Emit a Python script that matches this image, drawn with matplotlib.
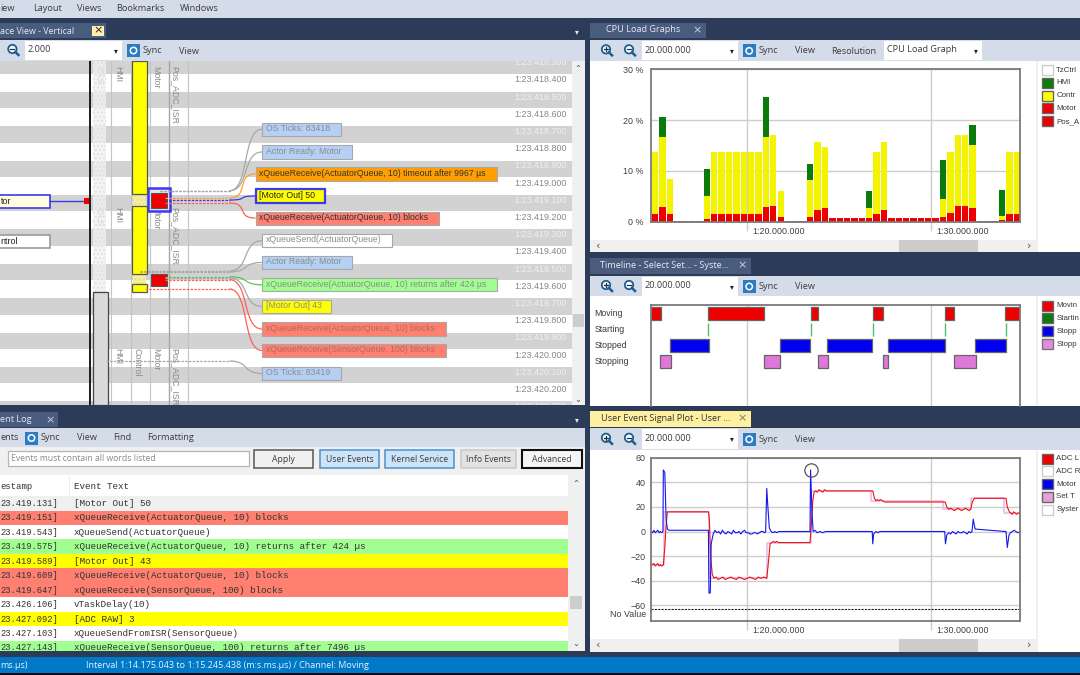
import numpy as np
import matplotlib
matplotlib.use("Agg")
import matplotlib.pyplot as plt
from matplotlib.patches import Rectangle, Circle, PathPatch
from matplotlib.path import Path
from matplotlib.transforms import ScaledTranslation, blended_transform_factory

# cpu load graph, percent per 0.4 s interval
cpu_red = [1.5, 2.8, 1.5, 0.1, 0.1, 0.1, 0.1, 0.5, 1.5, 1.5, 1.5, 1.5, 1.5, 1.5, 1.5, 2.8, 3.0,
           1.0, 0.1, 0.1, 0.1, 0.9, 2.3, 2.6, 0.7, 0.7, 0.7, 0.7, 0.7, 0.7, 1.5, 2.4, 0.7, 0.7,
           0.7, 0.7, 0.7, 0.7, 0.7, 0.9, 1.7, 3.0, 3.0, 2.6, 0.1, 0.1, 0.1, 0.3, 1.5, 1.5]
cpu_yellow = [12.2, 13.9, 7.0, 0.1, 0.1, 0.1, 0.1, 4.5, 12.2, 12.2, 12.2, 12.2, 12.2, 12.2, 12.2,
              13.8, 14.0, 5.0, 0.1, 0.1, 0.1, 7.4, 13.3, 12.1, 0, 0, 0, 0, 0, 1.9, 12.2, 13.3, 0,
              0, 0, 0, 0, 0, 0, 3.6, 12.0, 14.0, 14.0, 12.5, 0.1, 0.1, 0.1, 0.8, 12.2, 12.2]
cpu_green = [0, 4.0, 0, 0, 0, 0, 0, 5.4, 0, 0, 0, 0, 0, 0, 0, 7.9, 0, 0, 0, 0, 0, 3.1, 0, 0, 0, 0,
             0, 0, 0, 3.5, 0, 0, 0, 0, 0, 0, 0, 0, 0, 7.7, 0, 0, 0, 3.9, 0, 0, 0, 5.1, 0, 0]
cpu_start = 75.0
cpu_step = 0.401

# timeline states, seconds
state_names = ["Moving", "Starting", "Stopped", "Stopping"]
moving = [(74.79, 75.30), (77.89, 80.91), (83.45, 83.85), (86.82, 87.38), (90.75, 91.22), (94.00, 94.82)]
starting = [77.89, 83.45, 86.82, 90.75, 94.06]
stopped = [(75.82, 77.92), (81.76, 83.43), (84.35, 86.80), (87.63, 90.77), (92.40, 94.05)]
stopping = [(75.26, 75.84), (80.89, 81.80), (83.83, 84.39), (87.38, 87.65), (91.22, 92.42)]

# user event signals
adc_t = [74.79, 74.86, 74.93, 75.0, 75.07, 75.14, 75.21, 75.28, 75.36, 75.44, 75.51, 75.59, 75.66,
         77.89, 77.94, 78.01, 78.10, 78.19, 78.3, 78.42, 78.55, 78.68, 78.8, 78.95, 79.1, 79.25,
         79.4, 79.55, 79.7, 79.85, 80.0, 80.15, 80.3, 80.45, 80.6, 80.75, 80.9, 81.06, 81.15,
         81.24, 81.33, 81.42, 81.5, 81.6, 81.7, 81.8, 83.41, 83.48, 83.56, 83.63, 83.72, 83.8,
         83.9, 84.0, 84.1, 84.2, 84.3, 86.82, 86.91, 86.99, 87.08, 87.16, 87.25, 87.35, 87.45,
         87.58, 90.75, 90.84, 90.95, 91.05, 91.15, 91.25, 91.35, 91.45, 91.55, 91.65, 91.75,
         91.85, 91.95, 92.05, 92.14, 92.23, 92.34, 94.06, 94.13, 94.24, 94.32, 94.4, 94.48, 94.56,
         94.64, 94.72, 94.82]
adc_v = [-26, -27, -26, -28, -27, -26, -28, -27, -28, -27, -15, 5, 16,
         16, 10, -20, -35, -38, -37, -39, -38, -37, -39, -38, -37, -38, -39, -37, -38, -39,
         -38, -37, -38, -39, -37, -38, -37, -38, -25, -10, -9, -8, -9, -8, -9, -9, -9, 5, 25,
         32, 33, 32, 34, 33, 32, 34, 33, 33, 27, 25, 26, 25, 26, 25, 24, 24, 24, 20, 18, 19, 18,
         17, 18, 19, 18, 17, 18, 19, 18, 17, 18, 24, 27, 27, 20, 16, 15, 14, 16, 15, 14, 15, 15]

motor_t = [74.79, 74.86, 74.93, 75.0, 75.07, 75.14, 75.21, 75.28, 75.36, 75.42, 75.44, 75.52, 75.59,
           75.66, 75.75, 77.89, 77.92, 77.99, 78.04, 78.15, 78.25, 78.35, 78.45, 78.55, 78.65, 78.75,
           78.85, 78.95, 79.05, 79.15, 79.25, 79.35, 79.45, 79.55, 79.65, 79.75, 79.85, 79.95, 80.05,
           80.15, 80.25, 80.35, 80.45, 80.55, 80.65, 80.75, 80.85, 80.95, 81.0, 81.06, 81.12, 81.2,
           81.3, 81.4, 81.5, 81.6, 81.7, 83.41, 83.44, 83.52, 83.58, 83.68, 83.8, 83.95, 84.1, 84.25,
           86.79, 86.82, 86.87, 86.99, 87.1, 87.2, 87.35, 90.73, 90.77, 90.84, 90.95, 91.05, 91.15,
           91.25, 91.35, 91.45, 91.55, 91.65, 91.75, 91.85, 91.95, 92.05, 92.14, 92.21, 92.28, 92.38,
           94.02, 94.06, 94.13, 94.22, 94.3, 94.4, 94.5, 94.6, 94.7, 94.82]
motor_v = [0, -1, 1, -1, 0, 1, -1, 0, -1, 0, 50, 48, 10, 2, 1, 1, -50, -50, -10, -2, 1, -1, 0, -2, 1,
           -1, -2, 0, -1, -2, 1, -1, -1, 0, -2, 0, 1, -1, -1, -2, -2, -1, -1, -2, -1, 0, 0, -1, 0, 35,
           20, 3, 0, -1, 0, -1, 0, 0, 50, 15, 0, 1, -1, 0, -1, 0, 0, -10, -2, 0, -1, 0, 0, 0, -10, -3,
           -1, -2, 0, -1, -2, 0, -1, -1, 0, -1, -2, 0, -1, 0, 10, 2, 0, 0, -13, -3, -1, 0, 1, 0, -1, 0]

target_t = [74.79, 75.47, 75.47, 77.94, 77.94, 81.06, 81.06, 83.45, 83.45, 86.75, 86.75, 90.65, 90.65,
            92.14, 92.14, 93.97, 93.97, 94.82]
target_v = [-27, -27, 16, 16, -38, -38, -9, -9, 33, 33, 25, 25, 18, 18, 27, 27, 15, 15]
no_value_level = -63.2
marked_time = 83.45
marked_value = 50

# trace view texts
trace_times = ["1:23.418.300", "1:23.418.400", "1:23.418.500", "1:23.418.600", "1:23.418.700",
               "1:23.418.800", "1:23.418.900", "1:23.419.000", "1:23.419.100", "1:23.419.200",
               "1:23.419.300", "1:23.419.400", "1:23.419.500", "1:23.419.600", "1:23.419.700",
               "1:23.419.800", "1:23.419.900", "1:23.420.000", "1:23.420.100", "1:23.420.200",
               "1:23.420.300"]

# event log rows, the timestamps are cut off at the window edge in the screenshot
log_stamps = ["23.419.131]", "23.419.151]", "23.419.543]", "23.419.575]", "23.419.589]",
              "23.419.609]", "23.419.647]", "23.426.106]", "23.427.092]", "23.427.103]",
              "23.427.143]"]
log_texts = ["[Motor Out] 50", "xQueueReceive(ActuatorQueue, 10) blocks", "xQueueSend(ActuatorQueue)",
             "xQueueReceive(ActuatorQueue, 10) returns after 424 µs", "[Motor Out] 43",
             "xQueueReceive(ActuatorQueue, 10) blocks", "xQueueReceive(SensorQueue, 100) blocks",
             "vTaskDelay(10)", "[ADC RAW] 3", "xQueueSendFromISR(SensorQueue)",
             "xQueueReceive(SensorQueue, 100) returns after 7496 µs"]
log_colors = ["#F0F0F0", "#FF8070", "white", "#A0FF90", "#FFFF00", "#FF8070", "#FF8070",
              "white", "#FFFF00", "white", "#A0FF90"]

W, H = 1080, 675
NAVY = "#2B3B58"
BAR = "#D5DCE9"
TXT = "#3A3A3A"
UI_FONT = "Open Sans"
CHART_FONT = "Liberation Sans"

fig = plt.figure(figsize=(W / 100, H / 100), dpi=100, facecolor=NAVY)
cv = fig.add_axes([0, 0, 1, 1])
cv.set_xlim(0, W)
cv.set_ylim(H, 0)
cv.axis("off")


def rect(x0, y0, x1, y1, fc, ec="none", lw=0.0, z=6, **kw):
    p = Rectangle((x0, y0), x1 - x0, y1 - y0, facecolor=fc, edgecolor=ec, linewidth=lw, zorder=z, **kw)
    cv.add_patch(p)
    return p


def ui(x, y, s, size=6.6, color=TXT, ha="left", z=7, family=UI_FONT, **kw):
    return cv.text(x, y, s, fontsize=size, color=color, ha=ha, va="center", zorder=z, family=family, **kw)


def magnifier(x, y, sign):
    cv.add_patch(Circle((x, y - 1), 4.2, facecolor="white", edgecolor="#1C5F8E", linewidth=1.3, zorder=7))
    cv.plot([x + 3, x + 6], [y + 2, y + 5], color="#1C5F8E", lw=1.8, zorder=7)
    cv.plot([x - 2, x + 2], [y - 1, y - 1], color="#20303F", lw=0.9, zorder=8)
    if sign == "+":
        cv.plot([x, x], [y - 3, y + 1], color="#20303F", lw=0.9, zorder=8)


def sync(x, y):
    rect(x, y - 6.5, x + 13, y + 6.5, "#2B7CC0", z=7)
    cv.add_patch(Circle((x + 6.5, y), 3.2, facecolor="none", edgecolor="white", linewidth=1.1, zorder=8))
    ui(x + 15.5, y, "Sync", size=6.6)


def combo(x0, x1, y0, y1, s, tx=3):
    rect(x0, y0, x1, y1, "white", z=7)
    ui(x0 + tx, (y0 + y1) / 2 - 0.5, s, size=6.6, z=8)
    ui(x1 - 8, (y0 + y1) / 2, "▾", size=5.5, color="#222222", z=8, family="DejaVu Sans")


def right_panel(y_tab0, y_tab1, title, title_x, tab_color, title_color, close_color, y_bar0, y_bar1, y_bottom, tab_x1):
    rect(590, y_tab0, tab_x1, y_tab1, tab_color)
    ui(title_x, (y_tab0 + y_tab1) / 2 - 0.5, title, size=6.55, color=title_color)
    ui(tab_x1 - 8.5, (y_tab0 + y_tab1) / 2 - 0.5, "×", size=8, color=close_color, ha="center", family="DejaVu Sans")
    rect(590, y_bar0, 1080, y_bar1, BAR)
    rect(590, y_bar1, 1036, y_bottom, "white")
    rect(1036, y_bar1, 1038, y_bottom, "#F0F0F0")
    rect(1038, y_bar1, 1080, y_bottom, "white")
    yc = (y_bar0 + y_bar1) / 2
    magnifier(606, yc, "+")
    magnifier(629, yc, "-")
    combo(641.7, 738.3, y_bar0 + 1, y_bar1 - 0.5, "20.000.000", tx=2.5)
    sync(742.7, yc + 0.5)
    ui(795, yc + 0.5, "View", size=6.6)


def hscroll(y0, y1):
    rect(590, y0, 1036, y1, "#F0F0F0")
    rect(899, y0, 977.7, y1, "#CDCDCD", z=7)
    ui(597, (y0 + y1) / 2, "‹", size=8, color="#555555", ha="center", family="DejaVu Sans")
    ui(1029, (y0 + y1) / 2, "›", size=8, color="#555555", ha="center", family="DejaVu Sans")


def side_legend(names, colors, edges, ys):
    # names stop where the screenshot cuts them off
    for name, fc, ec, y in zip(names, colors, edges, ys):
        rect(1042.3, y - 5, 1052.7, y + 5, fc, ec=ec, lw=1.0, z=7)
        ui(1056.2, y, name, size=5.7, family=CHART_FONT)


def connector(x0, y0, x1, y1, color):
    # dashed run out of the task, then the s-curve up to the label
    xm = 229.5
    cv.plot([x0, xm], [y0, y0], color=color, lw=0.9, ls=(0, (2, 1)), zorder=3)
    path = Path([(xm, y0), (xm + 20, y0), (x1 - 20, y1), (x1, y1)],
                [Path.MOVETO, Path.CURVE4, Path.CURVE4, Path.CURVE4])
    cv.add_patch(PathPatch(path, facecolor="none", edgecolor=color, linewidth=0.9, zorder=3))


def event_box(x0, y0, x1, y1, s, fc, tc, ec="#A8A8A8", lw=0.8):
    rect(x0 + 1, y0 + 1, x1 + 1, y1 + 1, "#BBBBBB", z=3.5)
    rect(x0, y0, x1, y1, fc, ec=ec, lw=lw, z=4)
    cv.text(x0 + 3.5, (y0 + y1) / 2 - 0.5, s, fontsize=6.3, color=tc, va="center", family=CHART_FONT, zorder=5)


def left_tick_labels(ax):
    for lab in ax.get_xticklabels():
        lab.set_ha("left")
        lab.set_transform(lab.get_transform() + ScaledTranslation(5 / 100, 0, fig.dpi_scale_trans))


def chart_axes(x0, y0, x1, y1):
    ax = fig.add_axes([x0 / W, 1 - y1 / H, (x1 - x0) / W, (y1 - y0) / H], zorder=10)
    ax.set_xlim(74.77, 94.82)
    for s in ax.spines.values():
        s.set_color("#7A7A7A")
        s.set_linewidth(1.3)
    ax.set_axisbelow(True)
    ax.grid(True, color="#CCCCCC", lw=1.0)
    ax.set_xticks([80, 90])
    return ax


# ---- top menu
rect(0, 0, W, 17.5, BAR)
for x, s in [(0.5, "iew"), (33, "Layout"), (77, "Views"), (116.6, "Bookmarks"), (179.5, "Windows")]:
    ui(x, 8.5, s, size=6.55)

# ---- trace view content
rect(0, 61, 585, 404.5, "white", z=1)
for i, s in enumerate(trace_times):
    y = 62.8 + 17.2 * i
    if i % 2 == 0:
        rect(0, y - 5.5, 572, y + 11, "#D2D2D2", z=1.2)
    cv.text(567, y, s, fontsize=6.4, ha="right", va="center", family=CHART_FONT,
            color="#F0F0F0" if i % 2 == 0 else "#858585", zorder=2)

for x in [111, 130.5, 150, 188]:
    cv.plot([x, x], [61, 404], color="#C4C4C4", lw=0.8, zorder=1.5)
cv.plot([169, 169], [61, 404], color="#A6A6A6", lw=1.0, zorder=1.5)
rect(93, 61, 106, 292, "#F2F2F2", ec="#DDDDDD", lw=0, z=1.5, hatch="....", alpha=0.8)
cv.plot([90.3, 90.3], [61, 404], color="#1A1A1A", lw=1.4, zorder=2)
rect(93, 292, 108, 405, "#DADADA", ec="#444444", lw=0.9, z=2)

for y, names in [(66, [(98.6, "IDLE"), (117.8, "HMI"), (156, "Motor"), (175, "Pos_ADC_ISR")]),
                 (207, [(98.6, "IDLE"), (117.8, "HMI"), (156, "Motor"), (175, "Pos_ADC_ISR")]),
                 (348, [(117.8, "HMI"), (136.6, "Control"), (156, "Motor"), (175, "Pos_ADC_ISR")])]:
    for x, s in names:
        cv.text(x, y, s, rotation=-90, fontsize=6.3, ha="center", va="top", family=CHART_FONT,
                color="#DDDDDD" if s == "IDLE" else "#8A8A8A", zorder=2.5)

for y0, y1 in [(61, 194), (206, 274), (284, 292)]:
    rect(131.7, y0, 146.7, y1, "#FFFF00", ec="#555555", lw=0.9, z=2.8)
for y0, y1 in [(194, 206), (274, 284)]:
    rect(133, y0, 146, y1, "#F6EFA0", z=2.6, hatch="....", ec="#E8E090", lw=0)
rect(147.5, 188, 170, 211, "#E6E6F0", ec="#3A3AF0", lw=1.8, z=2.7)
rect(151, 193, 166.7, 207.5, "#EE0000", ec="#555555", lw=0.8, z=2.9)
rect(151, 274, 166.7, 285.7, "#EE0000", ec="#555555", lw=0.8, z=2.9)

rect(-3, 195, 50, 207.5, "#FFFFE0", ec="#3A3AF0", lw=1.2, z=3)
cv.text(0.5, 201.5, "tor", fontsize=6.5, va="center", family=CHART_FONT, color="#222222", zorder=4)
rect(-3, 235, 50, 248, "white", ec="#999999", lw=1.2, z=3)
cv.text(0.5, 241.5, "ntrol", fontsize=6.5, va="center", family=CHART_FONT, color="#222222", zorder=4)
cv.plot([50, 84], [201, 201], color="#3A3AF0", lw=1.0, zorder=3)
rect(83.5, 198, 89, 204, "#EE0000", z=3)

connector(160, 190.7, 262, 129.3, "#A8A8A8")
connector(160, 190.7, 262, 152, "#A8A8A8")
connector(165, 198, 255.5, 174, "#FFA030")
connector(165, 200, 255.5, 196, "#3A3AF0")
connector(165, 203, 255.5, 218, "#FF6050")
connector(140, 271, 262, 240.7, "#A8A8A8")
connector(140, 272, 262, 262.5, "#A8A8A8")
connector(165, 276.7, 262, 284.8, "#55C855")
connector(165, 278, 262, 306.5, "#A8A8A8")
connector(165, 279.7, 262, 329, "#FF6050")
connector(145, 289, 262, 350.5, "#FF6050")
connector(106, 361, 262, 373.5, "#A8A8A8")

BLUEBOX = "#B5D0F5"
SALMON = "#FF8070"
GREYTXT = "#8C8C8C"
event_box(262, 122.7, 340.5, 136, "OS Ticks: 83418", BLUEBOX, GREYTXT)
event_box(262, 145, 352, 158.7, "Actor Ready: Motor", BLUEBOX, GREYTXT)
event_box(255.5, 167, 497, 180.7, "xQueueReceive(ActuatorQueue, 10) timeout after 9967 µs", "#FF9F00", "#333333")
event_box(255.5, 189, 325, 203, "[Motor Out] 50", "#FFFF00", "#222222", ec="#3A3AF0", lw=1.6)
event_box(255.5, 211.7, 439, 224.7, "xQueueReceive(ActuatorQueue, 10) blocks", SALMON, "#333333")
event_box(262, 234, 391.6, 247, "xQueueSend(ActuatorQueue)", "white", GREYTXT)
event_box(262, 255.7, 352, 269, "Actor Ready: Motor", BLUEBOX, GREYTXT)
event_box(262, 278.3, 497, 291.3, "xQueueReceive(ActuatorQueue, 10) returns after 424 µs", "#A0FF90", GREYTXT)
event_box(262, 300, 331, 313, "[Motor Out] 43", "#FFFF00", GREYTXT)
event_box(262, 322, 445.5, 335.7, "xQueueReceive(ActuatorQueue, 10) blocks", SALMON, "#B06A60")
event_box(262, 344, 445.5, 357, "xQueueReceive(SensorQueue, 100) blocks", SALMON, "#B06A60")
event_box(262, 366.7, 340.5, 380, "OS Ticks: 83419", BLUEBOX, GREYTXT)

# scrollbar and chrome of the trace panel
rect(572, 61, 585, 404.5, "#F0F0F0", z=4.5)
rect(573, 314, 583.5, 327, "#CDCDCD", z=5)
ui(577.5, 69, "⌃", size=6, color="#444444", ha="center", family="DejaVu Sans")
ui(577.5, 399, "⌄", size=6, color="#444444", ha="center", family="DejaVu Sans")
rect(0, 18, 590, 61, NAVY, z=5.5)
rect(0, 404.5, 590, 428, NAVY)
rect(0, 22.7, 106, 38.3, "#4A5C7E")
ui(0.5, 31, "ace View - Vertical", size=6.4, color="#E6EAF2")
rect(92, 26, 103.5, 35.7, "#FFF0B0", z=7)
ui(97.8, 30.5, "×", size=8, color="#222222", ha="center", family="DejaVu Sans", z=8)
ui(577, 32, "▾", size=5.5, color="#E6EAF2", ha="center", family="DejaVu Sans")
rect(0, 40, 585, 60.5, BAR)
magnifier(12.4, 50, "-")
combo(24.5, 122, 41, 60, "2.000")
sync(127, 50.5)
ui(178.7, 51, "View", size=6.6)

# ---- event log panel
rect(0, 412, 58, 426.7, "#4A5C7E")
ui(0.5, 420, "ent Log", size=6.6, color="#E6EAF2")
ui(50, 420, "×", size=8, color="#C9D0DE", ha="center", family="DejaVu Sans")
ui(577, 420, "▾", size=5.5, color="#E6EAF2", ha="center", family="DejaVu Sans")
rect(0, 428, 585, 447, BAR)
ui(0.5, 438, "ents", size=6.6)
sync(25, 438)
ui(77, 438, "View", size=6.6)
ui(113, 438, "Find", size=6.6)
ui(147, 438, "Formatting", size=6.55)
rect(0, 447, 585, 475, "#F0F0F0")
rect(8, 451, 249, 466, "white", ec="#B5B5B5", lw=0.9, z=7)
ui(11, 458.5, "Events must contain all words listed", size=6.2, color="#8A8A8A", z=8)
for x0, x1, s, fc, ec, lw in [(254, 313, "Apply", "#F0F0F0", "#555555", 1.1),
                              (320, 379, "User Events", "#CDE4F8", "#4A90D0", 1.1),
                              (385, 454, "Kernel Service", "#CDE4F8", "#4A90D0", 1.1),
                              (461, 516, "Info Events", "#E2E2E2", "#C8C8C8", 1.1),
                              (522, 581.5, "Advanced", "#F5F5F5", "#111111", 1.5)]:
    rect(x0, 450, x1, 468.3, fc, ec=ec, lw=lw, z=7)
    ui((x0 + x1) / 2, 459, s, size=6.2, ha="center", z=8)

rect(0, 475, 568, 652, "white", z=1)
ui(0.5, 486.7, "estamp", size=6.4, family="Liberation Mono", color="#333333", z=3)
ui(73.7, 486.7, "Event Text", size=6.7, family="Liberation Mono", color="#333333", z=3)
cv.plot([68.8, 68.8], [476, 495], color="#EDEDED", lw=0.8, zorder=2)
for i, (stamp, text, color) in enumerate(zip(log_stamps, log_texts, log_colors)):
    yc = 503.3 + 14.47 * i
    rect(0, yc - 7.23, 568, yc + 7.23, color, z=1.5)
    ui(0.2, yc, stamp, size=6.35, family="Liberation Mono", color="#333333", z=3)
    ui(73.7, yc, text, size=6.7, family="Liberation Mono", color="#333333", z=3)
rect(568, 475, 585, 652, "#F0F0F0", z=4)
rect(570, 595.7, 582, 609, "#CDCDCD", z=5)
ui(576, 484, "⌃", size=6, color="#444444", ha="center", family="DejaVu Sans")
ui(576, 643, "⌄", size=6, color="#444444", ha="center", family="DejaVu Sans")
rect(0, 651, 590, 657, NAVY)

# ---- status bar
rect(0, 657, W, 672.5, "#007AC8")
rect(0, 672.5, W, H, "#0A0A12")
ui(0.5, 665, "ms.µs)", size=6.45, color="#E8F2FA")
ui(86.5, 665, "Interval 1:14.175.043 to 1:15.245.438 (m:s.ms.µs) / Channel: Moving", size=6.45, color="#E8F2FA")

# ---- right panels chrome
right_panel(22.7, 38.3, "CPU Load Graphs", 606, "#4A5C7E", "#E6EAF2", "#C9D0DE", 40, 60.7, 252, 706)
ui(830.7, 51, "Resolution", size=6.6)
combo(884, 981.7, 41, 60, "CPU Load Graph")
hscroll(240, 252)
side_legend(["TzCtrl", "HMI", "Contr", "Motor", "Pos_A"],
            ["white", "#0A7A0A", "#FFFF00", "#EE0000", "#EE0000"],
            ["#CCCCCC", "#666666", "#666666", "#666666", "#666666"], [70, 82.7, 95.7, 108.3, 121.3])

right_panel(258.3, 274, "Timeline - Select Set... - Syste...", 600, "#4A5C7E", "#E6EAF2", "#C9D0DE", 275.7, 296.3, 405.7, 750.7)
side_legend(["Movin", "Startin", "Stopp", "Stopp"], ["#EE0000", "#0A7A0A", "#0000EE", "#E58ADD"],
            ["#666666", "#666666", "#666666", "#777777"], [305.7, 318.3, 331.3, 344.3])
for i, s in enumerate(state_names):
    ui(594.3, 313.3 + 16 * i, s, size=6.3, family=CHART_FONT)

right_panel(411.3, 426.7, "User Event Signal Plot - User ...", 600.7, "#FFF0A0", "#333333", "#777777", 428, 449.6, 652, 750.7)
hscroll(638.7, 651.7)
side_legend(["ADC L", "ADC R", "Motor", "Set T", "Syster"],
            ["#EE0000", "white", "#0000EE", "#E8A0DC", "white"],
            ["#666666", "#CCCCCC", "#666666", "#666666", "#CCCCCC"], [458.7, 471.3, 484, 497, 509.7])

# ---- cpu load graph
ax = chart_axes(651, 69.3, 1020, 221.7)
cpu_t = cpu_start + cpu_step * np.arange(len(cpu_red))
red = np.array(cpu_red)
yellow = np.array(cpu_yellow)
green = np.array(cpu_green)
ax.bar(cpu_t, red, width=0.345, color="#EE0000")
ax.bar(cpu_t, yellow, width=0.345, bottom=red, color="#F4F400")
ax.bar(cpu_t, green, width=0.345, bottom=red + yellow, color="#0A7A0A")
ax.set_ylim(0, 30)
ax.set_yticks([0, 10, 20, 30], ["0 %", "10 %", "20 %", "30 %"])
ax.set_xticklabels(["1:20.000.000", "1:30.000.000"])
ax.tick_params(axis="y", length=0, pad=5.5, labelsize=6.4, labelcolor="#404040")
ax.tick_params(axis="x", length=6.5, width=1, color="#CCCCCC", pad=-2.7, labelsize=6.4, labelcolor="#404040")
for lab in ax.get_xticklabels() + ax.get_yticklabels():
    lab.set_family(CHART_FONT)
left_tick_labels(ax)

# ---- timeline
ax = chart_axes(651, 305, 1020, 405.7)
ax.set_ylim(5.775, -0.52)
ax.set_yticks([])
ax.grid(False, axis="y")
ax.set_xticklabels([])
ax.tick_params(axis="x", length=0)
ax.spines["bottom"].set_visible(False)
for row, spans, color in [(0, moving, "#EE0000"), (2, stopped, "#0000EE"), (3, stopping, "#DF78D8")]:
    ax.broken_barh([(a, b - a) for a, b in spans], (row - 0.41, 0.82), facecolor=color,
                   edgecolor="#666666", linewidth=0.9)
ax.vlines(starting, 1 - 0.41, 1 + 0.41, color="#50C060", lw=1.0)

# ---- signal plot
ax = chart_axes(651, 457.7, 1020, 620.7)
ax.set_ylim(-72.5, 60)
ax.set_yticks([-60, -40, -20, 0, 20, 40, 60])
ax.set_xticklabels(["1:20.000.000", "1:30.000.000"])
ax.plot(target_t, target_v, color="#E8BDE8", lw=1.2)
ax.plot(adc_t, adc_v, color="#F01010", lw=0.8)
ax.plot(motor_t, motor_v, color="#1515F0", lw=0.8)
ax.axhline(no_value_level, color="#222222", lw=0.8, ls=(0, (2, 1)))
ax.plot([marked_time], [marked_value], "o", ms=9.6, mfc="none", mec="#555555", mew=0.9, clip_on=False)
ax.text(-0.012, -67.7, "No Value", transform=blended_transform_factory(ax.transAxes, ax.transData),
        ha="right", va="center", fontsize=6.4, color="#404040", family=CHART_FONT)
ax.tick_params(axis="y", length=0, pad=4, labelsize=6.4, labelcolor="#404040")
ax.tick_params(axis="x", length=6.5, width=1, color="#CCCCCC", pad=-2.7, labelsize=6.4, labelcolor="#404040")
for lab in ax.get_xticklabels() + ax.get_yticklabels():
    lab.set_family(CHART_FONT)
left_tick_labels(ax)

fig.savefig("out.png", dpi=100, facecolor=fig.get_facecolor())
